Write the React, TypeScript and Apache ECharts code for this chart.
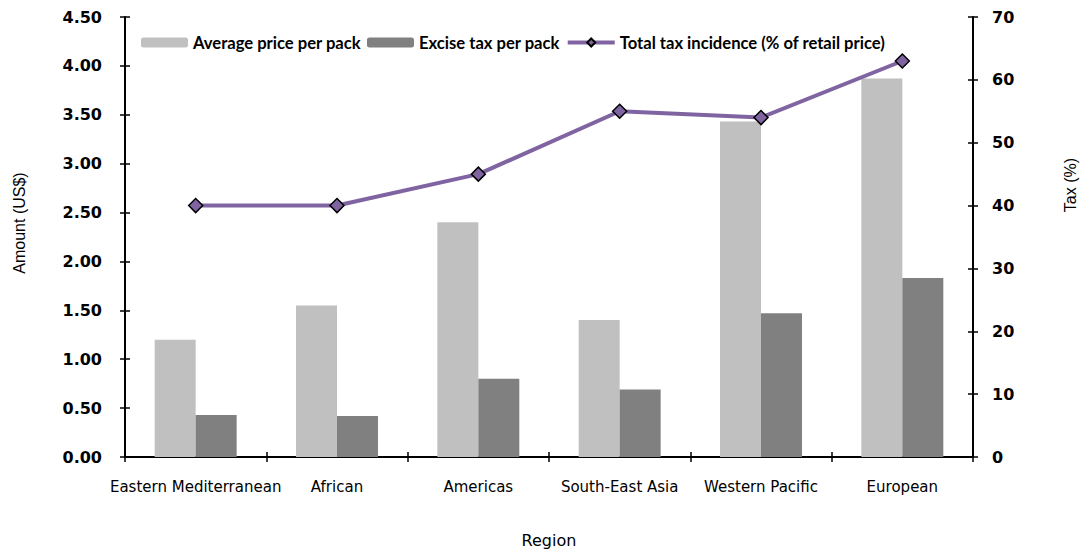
import React, { useEffect, useRef } from "react";
import * as echarts from "echarts";

const regions = ["Eastern Mediterranean", "African", "Americas", "South-East Asia", "Western Pacific", "European"];
const avgPrice = [1.2, 1.55, 2.4, 1.4, 3.43, 3.87];
const exciseTax = [0.43, 0.42, 0.8, 0.69, 1.47, 1.83];
const taxIncidence = [40, 40, 45, 55, 54, 63];

const axisTextFont = "DejaVu Sans";

export default function App() {
  const ref = useRef<HTMLDivElement>(null);
  useEffect(() => {
    if (!ref.current) return;
    const chart = echarts.init(ref.current, null, { renderer: "svg" });
    const axisLine = { show: true, lineStyle: { color: "#000", width: 2 } };
    const tickOut = { show: true, inside: false, length: 5, interval: 0, lineStyle: { color: "#000", width: 1.5 } };
    const tickIn = { show: true, inside: true, length: 5, interval: 0, lineStyle: { color: "#000", width: 1.5 } };
    const leftBase = { type: "value", min: 0, max: 4.5, interval: 0.5 };
    const rightBase = { type: "value", min: 0, max: 70, interval: 10 };
    chart.setOption({
      animation: false,
      grid: { left: 125, right: 109, top: 17, bottom: 98 },
      legend: {
        left: 136,
        top: 29,
        itemWidth: 47,
        itemHeight: 10,
        itemGap: 6,
        lineStyle: { width: 4 },
        textStyle: { fontFamily: "Lato", fontWeight: "bold", fontSize: 16.6, color: "#000" },
        data: [
          { name: "Average price per pack" },
          { name: "Excise tax per pack" },
          { name: "Total tax incidence (% of retail price)", lineStyle: { width: 4 } },
        ],
      },
      xAxis: [
        {
          type: "category",
          data: regions,
          name: "Region",
          nameLocation: "middle",
          nameGap: 75,
          nameTextStyle: { fontFamily: axisTextFont, fontSize: 16, color: "#000" },
          axisLine,
          axisTick: tickOut,
          axisLabel: { interval: 0, margin: 22, fontFamily: axisTextFont, fontSize: 15, color: "#000" },
          splitLine: { show: false },
        },
        {
          type: "category",
          data: regions,
          position: "bottom",
          axisLine: { show: false },
          axisTick: tickIn,
          axisLabel: { show: false },
          splitLine: { show: false },
        },
      ],
      yAxis: [
        {
          ...leftBase,
          position: "left",
          name: "Amount (US$)",
          nameLocation: "middle",
          nameGap: 98,
          nameRotate: 90,
          nameTextStyle: { fontFamily: "Liberation Sans", fontSize: 16, color: "#000", padding: [0, 0, 0, 28] },
          axisLine,
          axisTick: tickOut,
          axisLabel: {
            margin: 23,
            fontFamily: axisTextFont,
            fontWeight: "bold",
            fontSize: 16,
            color: "#000",
            formatter: (v: number) => v.toFixed(2),
          },
          splitLine: { show: false },
        },
        {
          ...rightBase,
          position: "right",
          name: "Tax (%)",
          nameLocation: "middle",
          nameGap: 89,
          nameRotate: 90,
          nameTextStyle: { fontFamily: "Liberation Sans", fontSize: 16, color: "#000", padding: [0, 0, 0, 104] },
          axisLine,
          axisTick: tickOut,
          axisLabel: { margin: 19, fontFamily: axisTextFont, fontWeight: "bold", fontSize: 16, color: "#000" },
          splitLine: { show: false },
        },
        {
          ...leftBase,
          position: "left",
          axisLine: { show: false },
          axisTick: tickIn,
          axisLabel: { show: false },
          splitLine: { show: false },
        },
        {
          ...rightBase,
          position: "right",
          axisLine: { show: false },
          axisTick: tickIn,
          axisLabel: { show: false },
          splitLine: { show: false },
        },
      ],
      series: [
        {
          name: "Average price per pack",
          type: "bar",
          data: avgPrice,
          yAxisIndex: 0,
          barGap: "0%",
          barCategoryGap: "42%",
          itemStyle: { color: "#C0C0C0" },
        },
        {
          name: "Excise tax per pack",
          type: "bar",
          data: exciseTax,
          yAxisIndex: 0,
          barGap: "0%",
          barCategoryGap: "42%",
          itemStyle: { color: "#808080" },
        },
        {
          name: "Total tax incidence (% of retail price)",
          type: "line",
          data: taxIncidence,
          yAxisIndex: 1,
          symbol: "diamond",
          symbolSize: 14,
          lineStyle: { color: "#8064A2", width: 4 },
          itemStyle: { color: "#8064A2", borderColor: "#000", borderWidth: 1.5 },
          z: 5,
        },
      ],
    });
    return () => chart.dispose();
  }, []);
  return <div ref={ref} style={{ width: 1086, height: 555, position: "absolute", left: 0, top: 0 }} />;
}
